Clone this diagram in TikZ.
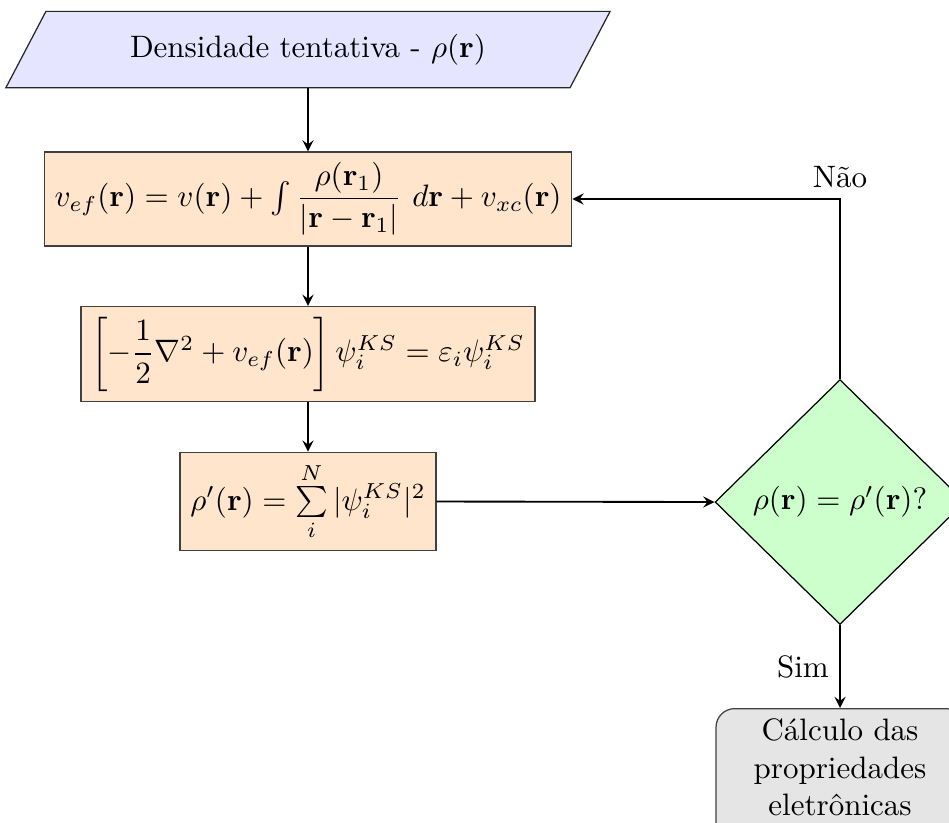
\documentclass[tikz,border=0pt]{standalone}
\usepackage{amsmath}
\usetikzlibrary{shapes.geometric,calc}
\tikzset{
  procbox/.style={draw=black!75, fill=orange!20, thin, rectangle, inner sep=3.33pt},
  decbox/.style={draw=black, fill=green!20, thin, diamond, inner sep=0pt, minimum width=80.6pt, minimum height=79pt},
  endbox/.style={draw=black!75, fill=gray!20, thin, rectangle, rounded corners=6pt, text width=72pt, align=center, minimum width=80pt},
  flow/.style={-stealth, semithick},
}
\begin{document}
\begin{tikzpicture}[x=0.3226pt, y=-0.3226pt]
\useasboundingbox (0,0) rectangle (949,822);
% start (parallelogram)
\node[minimum width=181.6pt, minimum height=24.2pt, inner sep=0pt] (start) at (308,49.5) {};
\filldraw[draw=black!85, fill=blue!10, thin]
  ($(start.north west)+(20,0)$) -- ($(start.north east)+(20,0)$) --
  ($(start.south east)+(-20,0)$) -- ($(start.south west)+(-20,0)$) -- cycle;
\node at (start) {Densidade tentativa - $\rho(\mathbf{r})$};
% process boxes
\node[procbox, minimum width=168.4pt, minimum height=29.7pt] (veff) at (308,199)
  {$v_{ef}(\mathbf{r}) = v(\mathbf{r}) + \int \dfrac{\rho(\mathbf{r}_1)}{|\mathbf{r}-\mathbf{r}_1|}\ d\mathbf{r} + v_{xc}(\mathbf{r})$};
\node[procbox, minimum width=143.6pt, minimum height=27.7pt] (ks) at (308,354)
  {$\left[-\dfrac{1}{2}\nabla^2 + v_{ef}(\mathbf{r})\right]\psi_i^{KS} = \varepsilon_i\psi_i^{KS}$};
\node[procbox, minimum width=79.7pt, minimum height=30pt] (rho) at (308,501.5)
  {$\rho'(\mathbf{r}) = \sum\limits_i^N |\psi_i^{KS}|^2$};
% decision
\node[decbox] (dec) at (840,502) {$\rho(\mathbf{r}) = \rho'(\mathbf{r})$?};
% end
\node[endbox, anchor=north] (calc) at (840,708) {C\'alculo das propriedades eletr\^onicas\rule[-10pt]{0pt}{10pt}};
% connectors
\draw[flow] (start.south) -- (veff.north);
\draw[flow] (veff.south) -- (ks.north);
\draw[flow] (ks.south) -- (rho.north);
\draw[flow] (rho.east) -- (dec.west);
\draw[flow] (dec.north) |- node[pos=0.5, above] {N\~ao} (veff.east);
\draw[flow] (dec.south) -- node[left] {Sim} (calc.north);
\end{tikzpicture}
\end{document}
